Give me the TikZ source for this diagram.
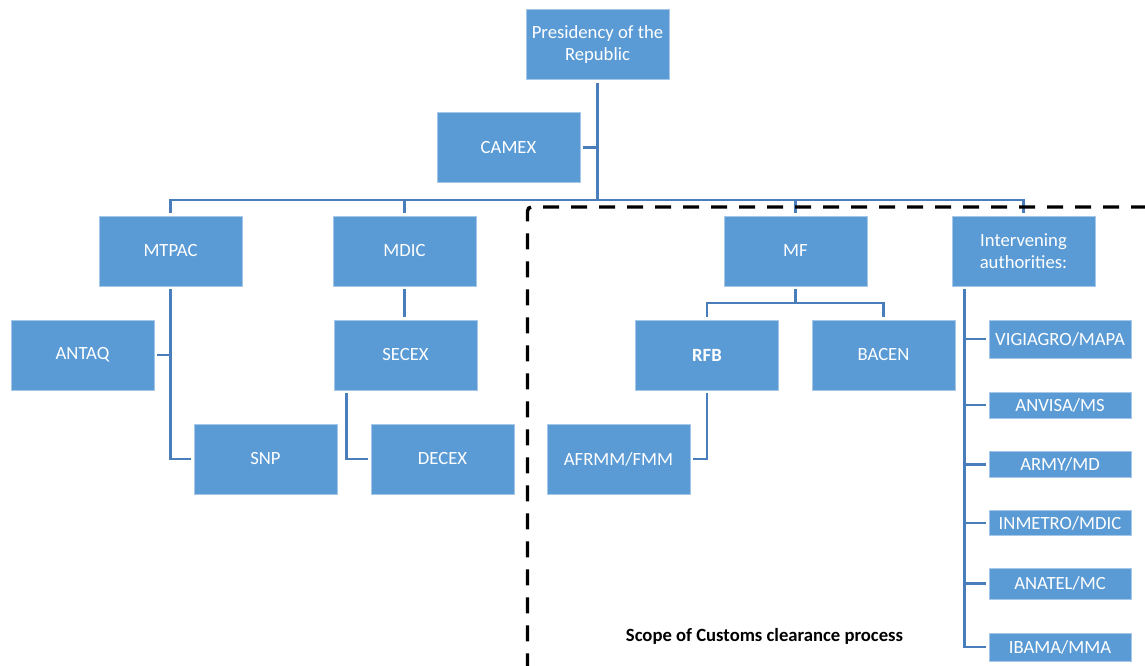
\documentclass[tikz,border=0pt]{standalone}
\usepackage{fontspec}
\setmainfont{Carlito}
\usetikzlibrary{calc}
\definecolor{boxblue}{RGB}{91,155,213}
\definecolor{lineblue}{RGB}{74,126,187}
\begin{document}
\begin{tikzpicture}[x=0.75pt,y=-0.75pt,
  orgbox/.style={rectangle, fill=boxblue, draw=boxblue!55!white, line width=0.6pt, text=white,
    font=\fontsize{14}{16.2}\selectfont, align=center, inner sep=0pt,
    minimum width=107.25pt, minimum height=52.5pt},
  smallbox/.style={orgbox, minimum width=106.5pt},
  conn/.style={draw=lineblue, line width=2pt},
  scopeline/.style={draw=black, line width=2.6pt, dash pattern=on 12pt off 9pt, dash phase=18.75pt, rounded corners=3pt}]
\useasboundingbox (0,0) rectangle (1145,666);
\fill[white] (0,0) rectangle (1145,666);

% boxes
\node[orgbox] (pres) at (597.5,44.5) {Presidency of the\\Republic};
\node[orgbox] (camex) at (508.5,147.5) {CAMEX};
\node[orgbox] (mtpac) at (170.5,251) {MTPAC};
\node[orgbox] (mdic) at (404.5,251) {MDIC};
\node[orgbox] (mf) at (795.5,251) {MF};
\node[orgbox] (interv) at (1023.5,251) {Intervening\\authorities:};
\node[orgbox] (antaq) at (82.5,355) {ANTAQ};
\node[orgbox] (secex) at (405.5,355) {SECEX};
\node[orgbox, font=\bfseries\fontsize{14}{16.2}\selectfont] (rfb) at (707,355) {RFB};
\node[orgbox] (bacen) at (883.5,355) {BACEN};
\node[orgbox] (snp) at (265.5,459) {SNP};
\node[orgbox] (decex) at (442.5,459) {DECEX};
\node[orgbox] (afrmm) at (618.5,459) {AFRMM/FMM};

\node[smallbox, minimum height=28.5pt] (vig) at (1060,339) {VIGIAGRO/MAPA};
\node[smallbox, minimum height=19.5pt] (anvisa) at (1060,405) {ANVISA/MS};
\node[smallbox, minimum height=19.1pt] (army) at (1060,464.5) {ARMY/MD};
\node[smallbox, minimum height=18.5pt] (inmetro) at (1060,523) {INMETRO/MDIC};
\node[smallbox, minimum height=23.25pt] (anatel) at (1060,583.5) {ANATEL/MC};
\node[smallbox, minimum height=21pt] (ibama) at (1060,647) {IBAMA/MMA};

% connectors
\coordinate (bus) at (597.5,200);
\draw[conn, shorten <=2.25pt] (pres.south) -- (bus);
\draw[conn, shorten <=2.25pt] (camex.east) -- (camex.east -| pres.south);
\draw[conn, shorten <=2.25pt, shorten >=2.25pt] (mtpac.north) |- (bus) -| (interv.north);
\draw[conn, shorten <=2.25pt] (mdic.north) -- (mdic.north |- bus);
\draw[conn, shorten <=2.25pt] (mf.north) -- (mf.north |- bus);

\draw[conn, shorten <=2.25pt, shorten >=2.25pt] (mtpac.south) |- (snp.west);
\draw[conn, shorten <=2.25pt] (antaq.east) -- (antaq.east -| mtpac.south);
\draw[conn, shorten <=2.25pt, shorten >=2.25pt] (mdic.south) -- (mdic.south |- secex.north);
\coordinate (secx) at ($(secex.south west)+(13,0)$);
\draw[conn, shorten <=2.25pt, shorten >=2.25pt] (secx) |- (decex.west);

\coordinate (mfj) at ($(mf.south)+(0,16.5)$);
\draw[conn, shorten <=2.25pt] (mf.south) -- (mfj);
\draw[conn, shorten <=2.25pt, shorten >=2.25pt] (rfb.north) |- (mfj) -| (bacen.north);
\draw[conn, shorten <=2.25pt, shorten >=2.25pt] (rfb.south) |- (afrmm.east);

\coordinate (ivx) at ($(interv.south west)+(13,0)$);
\draw[conn, shorten <=2.25pt, shorten >=2.25pt] (ivx) |- (ibama.west);
\foreach \n in {vig,anvisa,army,inmetro,anatel}
  \draw[conn, shorten <=2.25pt] (\n.west) -- (\n.west -| ivx);

% scope
\draw[scopeline] (1150,207) -- (527.5,207) -- (527.5,672);
\node[font=\bfseries\fontsize{14}{16}\selectfont, text=black] (scope) at (764.5,636) {Scope of Customs clearance process};
\end{tikzpicture}
\end{document}
